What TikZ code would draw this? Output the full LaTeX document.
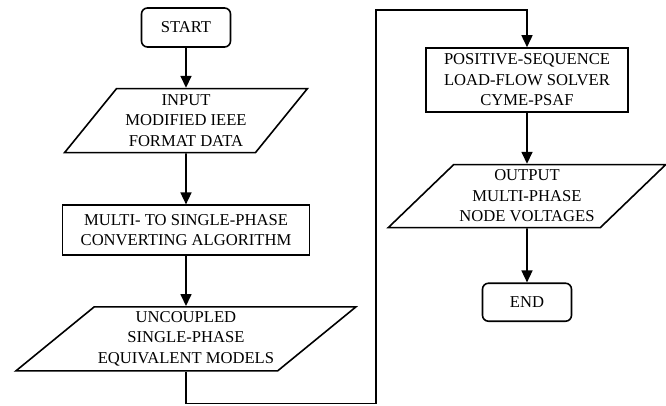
\documentclass[tikz,border=0pt]{standalone}
\usepackage{fontspec}
\setmainfont{Liberation Serif}
\usetikzlibrary{arrows.meta,positioning,shapes.geometric}

\tikzset{
  terminal/.style={draw,rounded corners=6pt,minimum width=89pt,minimum height=39pt},
  process/.style={draw,align=center,inner sep=2pt},
  io/.style={draw,trapezium,trapezium stretches=true,align=center,inner xsep=0pt,inner ysep=1pt},
}

\begin{document}
\begin{tikzpicture}[x=1pt,y=1pt,>={Triangle[length=12pt,width=11pt]},line width=1.6pt,
  font=\fontsize{16.6pt}{20.5pt}\selectfont,node distance=50pt]

            \useasboundingbox (0,0) rectangle (666,-405);

            % left column
            \node[terminal] (start) at (186,-27.5) {START};

            \node[io,trapezium left angle=50,trapezium right angle=130,
                  minimum width=243pt,minimum height=64pt] (input) [below=40pt of start]
                  {INPUT\\MODIFIED IEEE\\FORMAT DATA};

            \node[process,minimum width=247pt,minimum height=50pt] (multi) [below=51pt of input]
                  {MULTI- TO SINGLE-PHASE\\CONVERTING ALGORITHM};

            \node[io,trapezium left angle=37,trapezium right angle=143,
                  minimum width=341pt,minimum height=64pt] (uncoupled) [below=of multi]
                  {UNCOUPLED\\SINGLE-PHASE\\EQUIVALENT MODELS};

            % right column
            \node[process,minimum width=202pt,minimum height=64pt] (solver) at (527,-80)
                  {POSITIVE-SEQUENCE\\LOAD-FLOW SOLVER\\CYME-PSAF};

            \node[io,trapezium left angle=42,trapezium right angle=138,
                  minimum width=278pt,minimum height=63pt] (output) [below=51pt of solver]
                  {OUTPUT\\MULTI-PHASE\\NODE VOLTAGES};

            \node[terminal,minimum height=38pt] (end) [below=54pt of output] {END};

            \coordinate (lowbend) at (376,-403.5);
            \coordinate (highbend) at (376,-10);

            \path[->] (start) edge (input)
                      (input) edge (multi)
                      (multi) edge (uncoupled)
                      (solver) edge (output)
                      (output) edge (end);

            \draw[->] (uncoupled) |- (lowbend) -- (highbend) -| (solver);

        \end{tikzpicture}
\end{document}
